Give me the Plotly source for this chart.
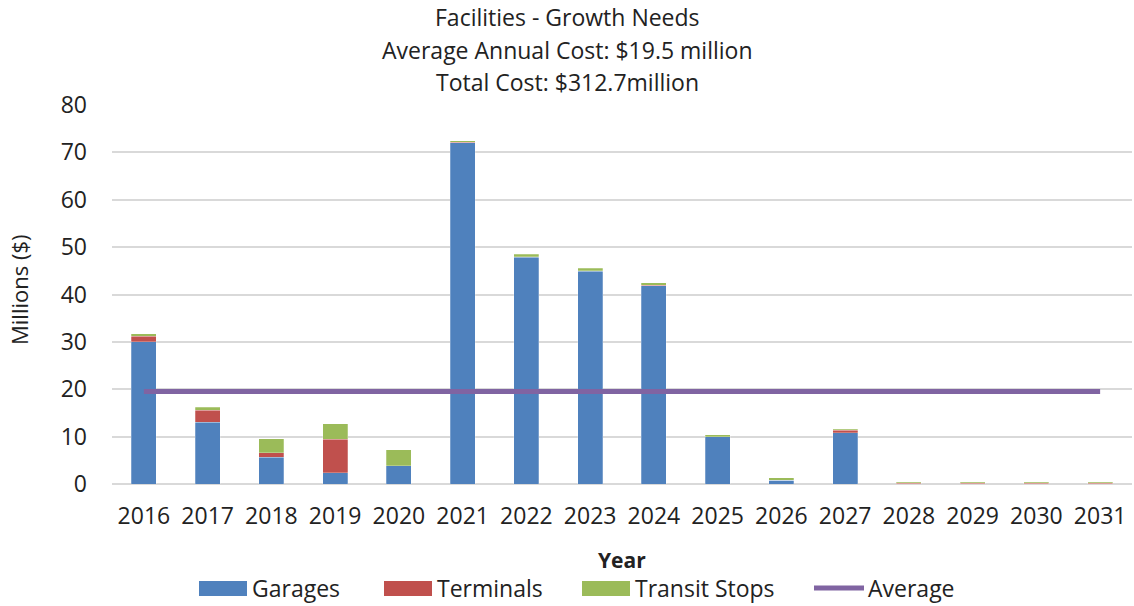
import plotly.graph_objects as go

years = [str(y) for y in range(2016, 2032)]
garages = [30.0, 13.0, 5.7, 2.4, 3.9, 72.0, 47.9, 44.9, 41.9, 10.0, 0.8, 10.8, 0.0, 0.0, 0.0, 0.0]
terminals = [1.2, 2.6, 0.9, 7.0, 0.0, 0.1, 0.1, 0.1, 0.1, 0.0, 0.0, 0.5, 0.2, 0.2, 0.2, 0.2]
transit_stops = [0.5, 0.6, 3.0, 3.3, 3.3, 0.4, 0.5, 0.5, 0.5, 0.4, 0.5, 0.3, 0.2, 0.2, 0.2, 0.2]
average = [19.5] * len(years)

title_lines = [
    "Facilities - Growth Needs",
    "Average Annual Cost: $19.5 million",
    "Total Cost: $312.7million",
]

FONT = "Open Sans, Lato, sans-serif"
TEXT = "#222222"
COLORS = {"Garages": "#4F81BD", "Terminals": "#C0504D", "Transit Stops": "#9BBB59", "Average": "#8064A2"}

# plot area in pixels
L, R, T, B = 112, 1132, 105, 484


def px_x(x):
    return (x - L) / (R - L)


def px_y(y):
    return (B - y) / (B - T)


bar_line = dict(color="rgba(255,255,255,0.5)", width=0.5)

fig = go.Figure()
for name, vals in [("Garages", garages), ("Terminals", terminals), ("Transit Stops", transit_stops)]:
    fig.add_trace(go.Bar(x=years, y=vals, name=name, marker_color=COLORS[name], marker_line=bar_line))
fig.add_trace(
    go.Scatter(x=years, y=average, name="Average", mode="lines", line=dict(color=COLORS["Average"], width=5))
)

# title lines, centered on the figure
for center, text in zip([17, 50, 82], title_lines):
    fig.add_annotation(
        text=text, xref="paper", yref="paper", x=px_x(567), y=px_y(center),
        xanchor="center", yanchor="middle", showarrow=False,
        font=dict(family=FONT, size=23, color=TEXT),
    )

# axis titles
fig.add_annotation(
    text="<b>Year</b>", xref="paper", yref="paper", x=px_x(622), y=px_y(560),
    xanchor="center", yanchor="middle", showarrow=False, font=dict(family=FONT, size=21, color=TEXT),
)
fig.add_annotation(
    text="Millions ($)", xref="paper", yref="paper", x=px_x(19), y=px_y(290),
    xanchor="center", yanchor="middle", textangle=-90, showarrow=False,
    font=dict(family=FONT, size=22, color=TEXT),
)

# legend drawn by hand (wide colour boxes like the original)
legend_items = [("Garages", 199), ("Terminals", 384), ("Transit Stops", 582)]
for name, x0 in legend_items:
    fig.add_shape(
        type="rect", xref="paper", yref="paper",
        x0=px_x(x0), x1=px_x(x0 + 48), y0=px_y(596), y1=px_y(581),
        fillcolor=COLORS[name], line_width=0,
    )
    fig.add_annotation(
        text=name, xref="paper", yref="paper", x=px_x(x0 + 51), y=px_y(588),
        xanchor="left", yanchor="middle", showarrow=False, font=dict(family=FONT, size=23, color=TEXT),
    )
fig.add_shape(
    type="line", xref="paper", yref="paper",
    x0=px_x(814), x1=px_x(864), y0=px_y(588), y1=px_y(588),
    line=dict(color=COLORS["Average"], width=5),
)
fig.add_annotation(
    text="Average", xref="paper", yref="paper", x=px_x(866), y=px_y(588),
    xanchor="left", yanchor="middle", showarrow=False, font=dict(family=FONT, size=23, color=TEXT),
)

fig.update_layout(
    barmode="stack",
    bargap=0.61,
    showlegend=False,
    width=1134,
    height=606,
    margin=dict(l=L, r=1134 - R, t=T, b=606 - B),
    plot_bgcolor="white",
    paper_bgcolor="white",
    font=dict(family=FONT, size=23, color=TEXT),
    xaxis=dict(
        showgrid=False,
        ticks="",
        tickfont=dict(size=23),
        ticklabelstandoff=16,
        automargin=False,
    ),
    yaxis=dict(
        range=[0, 80],
        dtick=10,
        gridcolor="#D9D9D9",
        gridwidth=1.5,
        zeroline=True,
        zerolinecolor="#D9D9D9",
        zerolinewidth=1.5,
        tickfont=dict(size=23),
        ticks="",
        ticklabelstandoff=24,
        automargin=False,
    ),
)

fig.write_html(
    "out.html",
    config={"displayModeBar": False},
    post_script="document.body.style.margin='0';",
)
